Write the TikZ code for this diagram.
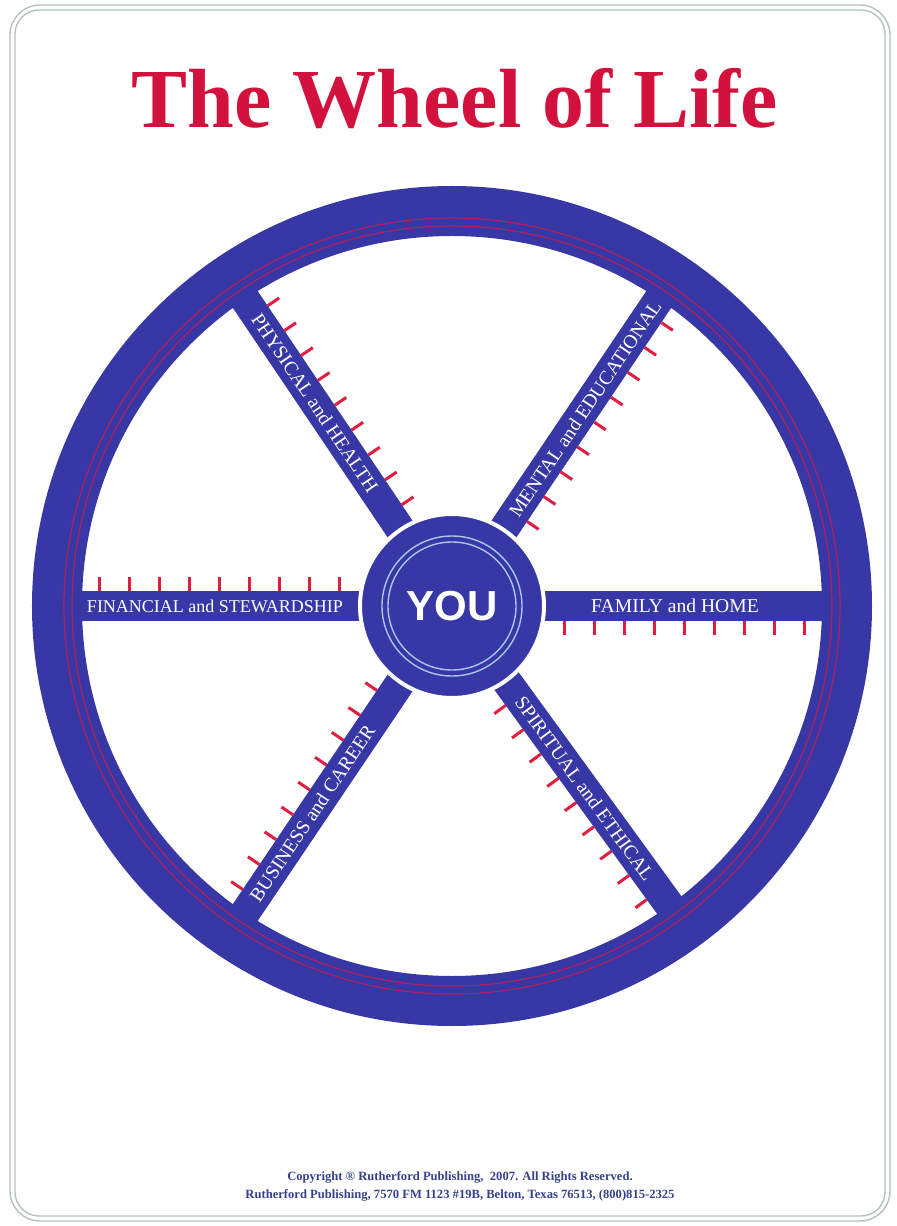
\documentclass[tikz,border=0pt]{standalone}
\usepackage{fontspec}
\setmainfont{Liberation Serif}
\setsansfont{Liberation Sans}
\definecolor{wheelblue}{HTML}{3737A6}
\definecolor{tickred}{HTML}{E01E40}
\definecolor{titlered}{HTML}{D2123C}
\definecolor{rimred}{HTML}{B0205E}
\definecolor{ringblue}{HTML}{A9C6EE}
\definecolor{edgegray}{HTML}{B3C1C0}
\definecolor{copyblue}{HTML}{34418C}

\begin{document}
\begin{tikzpicture}[x=0.5pt,y=0.5pt,
    headline/.style={titlered,font=\fontsize{42}{44}\selectfont\bfseries,inner sep=0pt},
    spokelabel/.style={white,font=\fontsize{9.8}{10}\selectfont,inner sep=0pt},
    tickmark/.style={tickred,line width=1.5pt},
    hub/.style={circle,fill=wheelblue,draw=white,line width=2pt,minimum size=92pt,
      text=white,font=\sffamily\bfseries\fontsize{21}{22}\selectfont},
    smallprint/.style={copyblue,font=\fontsize{6.3}{9}\selectfont\bfseries,align=center}]
    \useasboundingbox (-452,606) rectangle (444,-620);
    % double rounded frame
    \draw[edgegray,line width=0.7pt,rounded corners=15pt] (-442,601) rectangle (438,-615);
    \draw[edgegray,line width=0.7pt,rounded corners=12pt] (-437,596) rectangle (433,-610);
    % title
    \node[headline,anchor=base] (title) at (3,478) {The Wheel of Life};
    % spokes with their red ticks, ticks on the clockwise side
    \foreach \ang in {0,56,124,180,-124,-54}{
      \begin{scope}[rotate=\ang]
        \fill[wheelblue] (0,-15) rectangle (400,15);
        \foreach \r in {112,142,...,352}
          \draw[tickmark] (\r,-15) -- (\r,-29);
      \end{scope}}
    % rim with the two thin red lines
    \draw[wheelblue,line width=25pt] (0,0) circle (395);
    \draw[rimred,line width=0.6pt] (0,0) circle (380);
    \draw[rimred,line width=0.6pt] (0,0) circle (388);
    % hub
    \node[hub] (you) at (0,0) {YOU};
    \draw[ringblue,line width=0.7pt] (you.center) circle (70);
    \draw[ringblue,line width=0.7pt] (you.center) circle (64);
    % spoke labels
    \node[spokelabel,font=\fontsize{9}{10}\selectfont] (fin) at (180:237) {FINANCIAL and STEWARDSHIP};
    \foreach \ang/\dist/\rot/\nm/\txt in {
        0/223/0/fam/{FAMILY and HOME},
        124/245/-56/phys/{PHYSICAL and HEALTH},
        56/238/56/ment/{MENTAL and EDUCATIONAL},
        -54/226/-54/spir/{SPIRITUAL and ETHICAL},
        -124/250/56/bus/{BUSINESS and CAREER}}
      \node[spokelabel,rotate=\rot] (\nm) at (\ang:\dist) {\txt};
    % copyright lines
    \node[smallprint] (copy) at (8,-580)
      {Copyright ® Rutherford Publishing,\ \ 2007. All Rights Reserved.\\
       Rutherford Publishing, 7570 FM 1123 \#19B, Belton, Texas 76513, (800)815-2325};
\end{tikzpicture}
\end{document}
